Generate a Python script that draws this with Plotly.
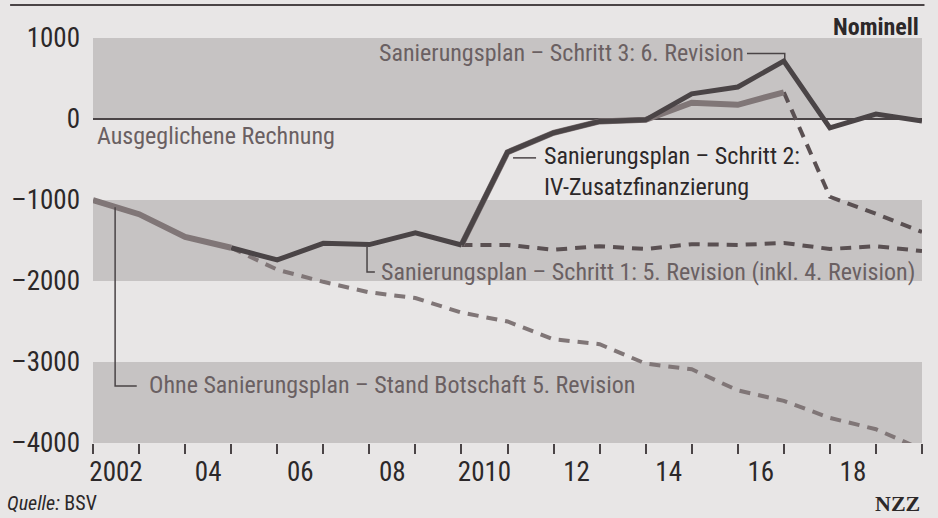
import plotly.graph_objects as go

# ---------------- data (CHF Mio., nominal) ----------------
hist_years = [2002, 2003, 2004, 2005, 2006, 2007, 2008, 2009, 2010]
hist_values = [-1000, -1175, -1455, -1590, -1740, -1535, -1550, -1405, -1555]

ohne_years = [2005, 2006, 2007, 2008, 2009, 2010, 2011, 2012, 2013, 2014, 2015, 2016, 2017, 2018, 2019, 2020]
ohne_values = [-1590, -1860, -2010, -2140, -2210, -2390, -2500, -2720, -2780, -3020, -3090, -3350, -3480, -3690, -3830, -4080]

schritt1_years = [2010, 2011, 2012, 2013, 2014, 2015, 2016, 2017, 2018, 2019, 2020]
schritt1_values = [-1555, -1555, -1615, -1570, -1605, -1545, -1555, -1530, -1605, -1570, -1630]

schritt2_years = [2010, 2011, 2012, 2013, 2014, 2015, 2016, 2017]
schritt2_values = [-1555, -410, -170, -30, -10, 200, 175, 330]
schritt2_dash_years = [2017, 2018, 2019, 2020]
schritt2_dash_values = [330, -960, -1170, -1395]

schritt3_years = [2010, 2011, 2012, 2013, 2014, 2015, 2016, 2017, 2018, 2019, 2020]
schritt3_values = [-1555, -410, -170, -30, -10, 310, 395, 715, -110, 60, -25]

x_tick_pos = [2002.5, 2004.5, 2006.5, 2008.5, 2010.5, 2012.5, 2014.5, 2016.5, 2018.5]
x_tick_labels = ["2002", "04", "06", "08", "2010", "12", "14", "16", "18"]
y_tick_vals = [1000, 0, -1000, -2000, -3000, -4000]
y_tick_labels = ["1000", "0", "–1000", "–2000", "–3000", "–4000"]
bands = [(0, 1000), (-2000, -1000), (-4000, -3000)]

# ---------------- style ----------------
FONT = "Liberation Sans Narrow, Roboto Condensed, DejaVu Sans Condensed, Roboto, sans-serif"
BG = "#e8e6e6"
BAND = "#c6c3c3"
DARK = "#4a4446"
LIGHT = "#807677"
DASH_DARK = "#5a5052"
TXT_DARK = "#2c2829"
TXT_MID = "#6a6062"

fig = go.Figure()

fig.add_trace(go.Scatter(x=ohne_years, y=ohne_values, mode="lines",
                         line=dict(color=LIGHT, width=4, dash="11px,8px"), hoverinfo="skip"))
fig.add_trace(go.Scatter(x=schritt1_years, y=schritt1_values, mode="lines",
                         line=dict(color=DASH_DARK, width=4, dash="11px,8px"), hoverinfo="skip"))
fig.add_trace(go.Scatter(x=schritt2_dash_years, y=schritt2_dash_values, mode="lines",
                         line=dict(color=DASH_DARK, width=4, dash="11px,8px"), hoverinfo="skip"))
fig.add_trace(go.Scatter(x=schritt2_years, y=schritt2_values, mode="lines",
                         line=dict(color=LIGHT, width=6), hoverinfo="skip"))
fig.add_trace(go.Scatter(x=hist_years[3:], y=hist_values[3:], mode="lines",
                         line=dict(color=DARK, width=5), hoverinfo="skip"))
fig.add_trace(go.Scatter(x=schritt3_years, y=schritt3_values, mode="lines",
                         line=dict(color=DARK, width=5), hoverinfo="skip"))
fig.add_trace(go.Scatter(x=hist_years[:4], y=hist_values[:4], mode="lines",
                         line=dict(color=LIGHT, width=6), hoverinfo="skip"))

shapes = []
for lo, hi in bands:
    shapes.append(dict(type="rect", xref="x", yref="y", x0=2002, x1=2020, y0=lo, y1=hi,
                       fillcolor=BAND, line=dict(width=0), layer="below"))
shapes.append(dict(type="line", xref="x", yref="y", x0=2002, x1=2020, y0=0, y1=0,
                   line=dict(color=DARK, width=2), layer="below"))
# top rule
shapes.append(dict(type="line", xref="paper", yref="paper", x0=-0.1, x1=1.003, y0=1.0815, y1=1.0815,
                   line=dict(color=DARK, width=2)))
# leader lines
LEAD = dict(color=DARK, width=1.5)
shapes.append(dict(type="path", xref="x", yref="y", path="M 2016.2 810 L 2017.02 810 L 2017.02 730", line=LEAD))
shapes.append(dict(type="path", xref="x", yref="y", path="M 2011.12 -480 L 2011.62 -480", line=LEAD))
shapes.append(dict(type="path", xref="x", yref="y", path="M 2007.95 -1580 L 2007.95 -1890 L 2008.12 -1890", line=LEAD))
shapes.append(dict(type="path", xref="x", yref="y", path="M 2002.48 -1090 L 2002.48 -3296 L 2002.95 -3296", line=LEAD))

ann = []
def label(x, y, text, color, xanchor="left", size=24, xref="x", yref="y", family=FONT, weight=None):
    f = dict(family=family, size=size, color=color)
    if weight:
        f["weight"] = weight
    ann.append(dict(x=x, y=y, xref=xref, yref=yref, text=text, showarrow=False,
                    xanchor=xanchor, yanchor="middle", align="left", font=f))

label(2016.17, 820, "Sanierungsplan – Schritt 3: 6. Revision", TXT_MID, xanchor="right")
label(2002.04, -215, "Ausgeglichene Rechnung", TXT_MID)
label(2011.75, -650, "Sanierungsplan – Schritt 2:<br>IV-Zusatzfinanzierung", TXT_DARK)
label(2008.2, -1885, "Sanierungsplan – Schritt 1: 5. Revision (inkl. 4. Revision)", TXT_MID)
label(2003.17, -3290, "Ohne Sanierungsplan – Stand Botschaft 5. Revision", TXT_MID)
label(0.999, 1.027, "Nominell", TXT_DARK, xanchor="right", xref="paper", yref="paper", weight="bold")
label(-0.106, -0.149, "<i>Quelle:</i> BSV", TXT_DARK, xref="paper", yref="paper", size=20)
label(1.0, -0.149, "<b>NZZ</b>", TXT_DARK, xanchor="right", xref="paper", yref="paper", size=22,
      family="Liberation Serif, DejaVu Serif, serif")

fig.update_layout(
    width=938, height=518,
    margin=dict(l=93, r=16, t=38, b=75),
    paper_bgcolor=BG, plot_bgcolor=BG,
    showlegend=False,
    shapes=shapes, annotations=ann,
    font=dict(family=FONT, color=TXT_DARK),
    xaxis=dict(range=[2002, 2020], showgrid=False, zeroline=False, showline=False,
               tickmode="array", tickvals=x_tick_pos, ticktext=x_tick_labels,
               ticks="", tickfont=dict(size=27, color=TXT_DARK), ticklabelstandoff=10,
               minor=dict(tickmode="array", tickvals=list(range(2002, 2021)), ticks="outside",
                          ticklen=10, tickwidth=1.5, tickcolor=DARK, showgrid=False),
               automargin=False, fixedrange=True),
    yaxis=dict(range=[-4000, 1000], showgrid=False, zeroline=False, showline=False,
               tickmode="array", tickvals=y_tick_vals, ticktext=y_tick_labels,
               ticks="", tickfont=dict(size=27, color=TXT_DARK), ticklabelstandoff=12,
               automargin=False, fixedrange=True),
)

fig.write_html("out.html", config={"displayModeBar": False},
               post_script="document.body.style.margin='0';")
